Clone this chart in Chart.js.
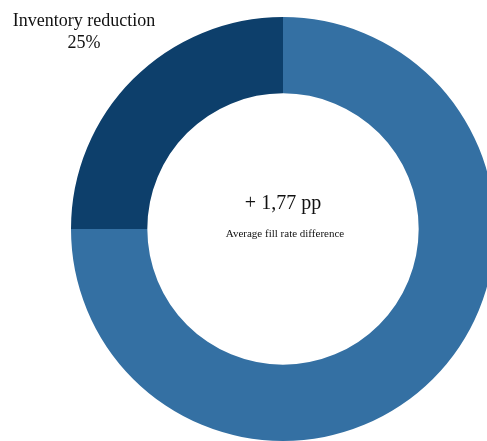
<!DOCTYPE html>
<html lang="en">
<head>
    <meta charset="UTF-8">
    <title>Inventory reduction</title>
    <script src="https://cdn.jsdelivr.net/npm/chart.js"></script>
    <style>
        html, body {
            margin: 0;
            padding: 0;
            background: #fff;
            overflow: hidden;
            width: 487px;
            height: 441px;
        }
        .wrap {
            position: absolute;
            left: 0;
            top: 0;
            width: 566px;
            height: 458px;
        }
    </style>
</head>
<body>

<div class="wrap">
    <canvas id="donut" width="566" height="458"></canvas>
</div>

<script>
const categories = ['Other', 'Inventory reduction'];
const shares = [75, 25];
const sliceColors = ['#3470a3', '#0d3f6b'];
const centerValue = '+ 1,77 pp';
const centerCaption = 'Average fill rate difference';

// texte: etiquette en haut a gauche + texte au centre
const textPlugin = {
    id: 'donutText',
    afterDraw(chart) {
        const ctx = chart.ctx;
        const meta = chart.getDatasetMeta(0);
        const arc = meta.data[0];
        const cx = arc.x, cy = arc.y;

        ctx.save();
        ctx.fillStyle = '#111';
        ctx.textAlign = 'center';
        ctx.textBaseline = 'alphabetic';

        ctx.font = '20px "Liberation Serif", serif';
        ctx.fillText(centerValue, cx, cy - 20);

        ctx.font = '11px "Liberation Serif", serif';
        ctx.fillText(centerCaption, cx + 2, cy + 8);

        ctx.font = '18px "Liberation Serif", serif';
        ctx.fillText(categories[1], 84, 26);
        ctx.fillText(shares[1] + '%', 84, 48);
        ctx.restore();
    }
};

new Chart(document.getElementById('donut').getContext('2d'), {
    type: 'doughnut',
    data: {
        labels: categories,
        datasets: [{
            data: shares,
            backgroundColor: sliceColors,
            borderWidth: 0
        }]
    },
    options: {
        responsive: false,
        animation: false,
        cutout: '64%',
        layout: { padding: 17 },
        plugins: {
            legend: { display: false },
            tooltip: { enabled: false }
        }
    },
    plugins: [textPlugin]
});
</script>

</body>
</html>
